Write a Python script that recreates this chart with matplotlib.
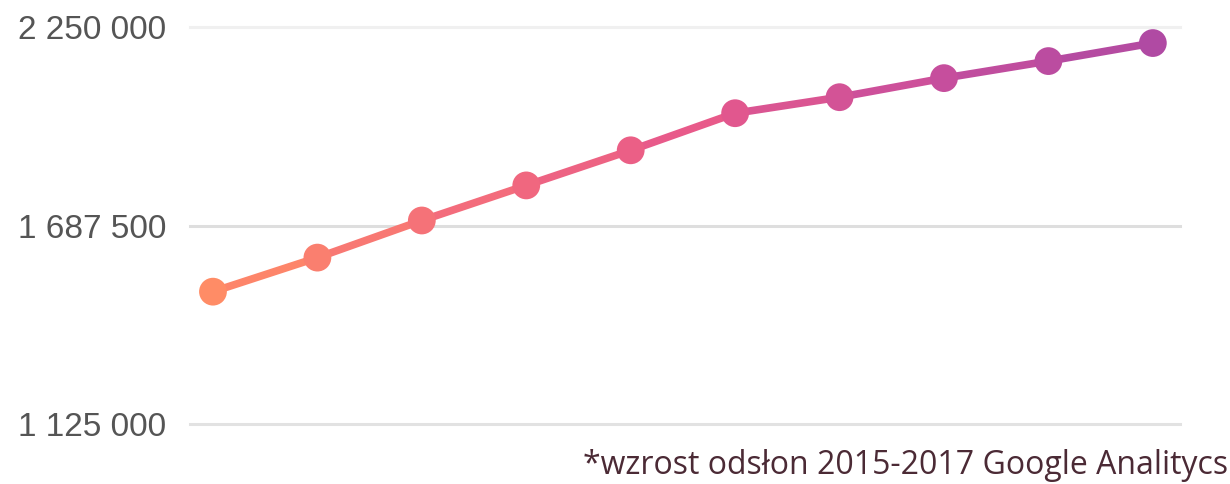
import numpy as np
import matplotlib
matplotlib.use("Agg")
import matplotlib.pyplot as plt
from matplotlib.collections import LineCollection
from matplotlib.colors import LinearSegmentedColormap

# page views, 10 measurement points (2015-2017)
points = list(range(10))
views = [1500000, 1596500, 1701700, 1801100, 1900600,
         2005700, 2051100, 2105100, 2153400, 2204500]
yticks = [1125000, 1687500, 2250000]
ytick_labels = ["1 125 000", "1 687 500", "2 250 000"]
caption = "*wzrost odsłon 2015-2017 Google Analitycs"

cmap = LinearSegmentedColormap.from_list(
    "views", ["#ff8c66", "#f46e7a", "#e85a8a", "#c94f9c", "#b04aa3"])

fig = plt.figure(figsize=(12.3, 4.84), dpi=100)
ax = fig.add_axes([190 / 1230, 60 / 484, 990 / 1230, 397 / 484])

x = np.array(points, dtype=float)
y = np.array(views, dtype=float)
segs = [[(x[i], y[i]), (x[i + 1], y[i + 1])] for i in range(len(x) - 1)]
seg_col = [cmap((i + 0.5) / (len(x) - 1)) for i in range(len(x) - 1)]
lc = LineCollection(segs, colors=seg_col, linewidths=5.5, capstyle="round",
                    zorder=3, clip_on=False)
ax.add_collection(lc)
ax.scatter(x, y, s=20 ** 2, c=[cmap(i / (len(x) - 1)) for i in range(len(x))],
           zorder=4, clip_on=False, linewidths=0)

ax.set_xlim(-0.22, 9.26)
ax.set_ylim(yticks[0], yticks[-1])
ax.set_yticks(yticks)
ax.set_yticklabels(ytick_labels, family="Liberation Sans", fontsize=24, color="#555555")
ax.tick_params(axis="y", length=0, pad=17)
ax.set_xticks([])
for yt, c in zip(yticks, ["#e2e2e2", "#dedede", "#f0f0f0"]):
    ax.axhline(yt, color=c, lw=2.2, zorder=1, clip_on=False)
for s in ax.spines.values():
    s.set_visible(False)

fig.text(1228 / 1230, 2 / 484, caption, ha="right", va="bottom",
         family="Open Sans", fontsize=23, color="#4b2a35")

fig.savefig("out.png", dpi=100)
